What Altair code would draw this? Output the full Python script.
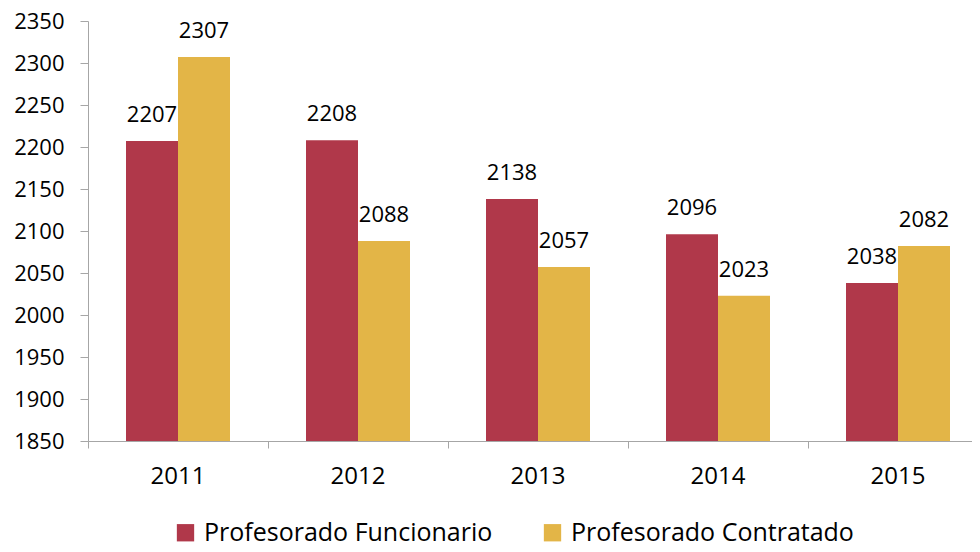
import altair as alt
import pandas as pd

years = ["2011", "2012", "2013", "2014", "2015"]
series = ["Profesorado Funcionario", "Profesorado Contratado"]
funcionario = [2207, 2208, 2138, 2096, 2038]
contratado = [2307, 2088, 2057, 2023, 2082]
colors = ["#B0384A", "#E3B547"]
y_ticks = list(range(1850, 2351, 50))

rows = []
for i, y in enumerate(years):
    rows.append({"year": y, "serie": series[0], "value": funcionario[i]})
    rows.append({"year": y, "serie": series[1], "value": contratado[i]})
df = pd.DataFrame(rows)

FONT = "Open Sans"
AXIS_COLOR = "#A6A6A6"

x = alt.X("year:N", title=None,
          scale=alt.Scale(paddingInner=0, paddingOuter=0, range=[0, 900]),
          axis=alt.Axis(labelAngle=0, bandPosition=0,
                        domainColor=AXIS_COLOR, tickColor=AXIS_COLOR,
                        tickSize=7, labelPadding=16, labelFontSize=24,
                        labelFont=FONT, labelColor="#000000"))
xo = alt.XOffset("serie:N", sort=series,
                 scale=alt.Scale(paddingInner=0, paddingOuter=0.7308))
y = alt.Y("value:Q", title=None,
          scale=alt.Scale(domain=[1850, 2350], zero=False, nice=False),
          axis=alt.Axis(values=y_ticks, format="d", grid=False,
                        domainColor=AXIS_COLOR,
                        tickColor=AXIS_COLOR, tickSize=8, labelPadding=16,
                        labelFontSize=22, labelFont=FONT, labelColor="#000000"))

bars = alt.Chart(df).mark_bar().encode(
    x=x, xOffset=xo, y=y, y2=alt.datum(1850),
    color=alt.Color("serie:N", sort=series,
                    scale=alt.Scale(domain=series, range=colors),
                    legend=alt.Legend(title=None, orient="none",
                                      legendX=85, legendY=499,
                                      direction="horizontal",
                                      symbolType="square", symbolSize=300,
                                      symbolStrokeWidth=0, labelLimit=0,
                                      labelFontSize=25, labelFont=FONT,
                                      labelColor="#000000", labelOffset=6,
                                      columnPadding=47, symbolOffset=0))
)

labels = alt.Chart(df).mark_text(baseline="bottom", dy=-14, fontSize=22,
                                 font=FONT, color="#000000").encode(
    x=x, xOffset=xo, y=y, text=alt.Text("value:Q", format="d")
)

chart = alt.layer(bars, labels).properties(
    width=884, height=420,
    padding={"left": 80, "top": 13, "right": 0, "bottom": 103},
    autosize=alt.AutoSizeParams(type="none")
).configure_view(stroke=None)

chart.save("out.html", embed_options={"renderer": "svg", "actions": False})
